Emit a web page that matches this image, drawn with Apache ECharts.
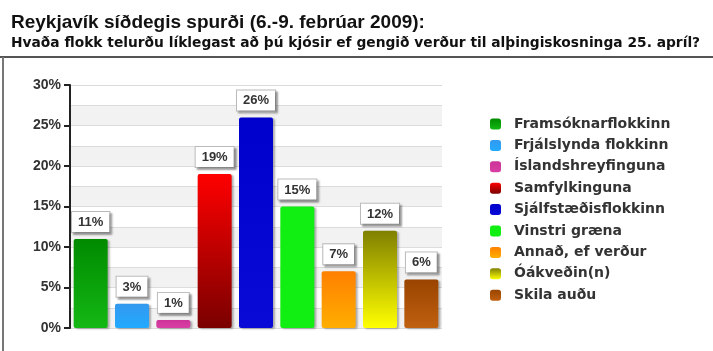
<!DOCTYPE html>
<html>
<head>
<meta charset="utf-8">
<script src="https://cdn.jsdelivr.net/npm/echarts@6/dist/echarts.min.js"></script>
<style>
  html, body { margin: 0; padding: 0; background: #fff; }
  #main { width: 713px; height: 351px; }
</style>
</head>
<body>
<div id="main"></div>
<script>
// flokkar og hlutfall (%)
var parties = ['Framsóknarflokkinn', 'Frjálslynda flokkinn', 'Íslandshreyfinguna', 'Samfylkinguna',
  'Sjálfstæðisflokkinn', 'Vinstri græna', 'Annað, ef verður', 'Óákveðin(n)', 'Skila auðu'];
var values = [11, 3, 1, 19, 26, 15, 7, 12, 6];
var yTicks = [0, 5, 10, 15, 20, 25, 30];

// litir: efri og neðri endi á hverri súlu
var topColors = ['#008a00', '#3399ee', '#cc3399', '#ff0000', '#0000cc', '#11ee11', '#ff8000', '#808000', '#994400'];
var bottomColors = ['#14b814', '#22aaff', '#d93fa3', '#7a0000', '#0a0ad6', '#11ee11', '#ffae00', '#ffff00', '#c06010'];

var chart = echarts.init(document.getElementById('main'));

var series = parties.map(function (name, i) {
  var data = values.map(function (v, j) { return j === i ? v : '-'; });
  return {
    name: name,
    type: 'bar',
    stack: 'all',
    barWidth: 34,
    data: data,
    itemStyle: {
      color: new echarts.graphic.LinearGradient(0, 0, 0, 1, [
        { offset: 0, color: topColors[i] },
        { offset: 1, color: bottomColors[i] }
      ]),
      borderRadius: 2,
      shadowColor: 'rgba(0,0,0,0.3)',
      shadowOffsetX: 2,
      shadowOffsetY: 1,
      shadowBlur: 2
    },
    label: {
      show: true,
      position: 'top',
      distance: 7,
      formatter: '{c}%',
      fontFamily: 'Liberation Sans',
      fontWeight: 'bold',
      fontSize: 13,
      color: '#333',
      backgroundColor: '#fff',
      borderColor: '#bbb',
      borderWidth: 1,
      padding: [4, 6, 3, 6],
      shadowColor: 'rgba(0,0,0,0.3)',
      shadowOffsetX: 2,
      shadowOffsetY: 2,
      shadowBlur: 2
    }
  };
});

var option = {
  animation: false,
  title: [
    {
      text: 'Reykjavík síðdegis spurði (6.-9. febrúar 2009):',
      left: 6, top: 8,
      textStyle: { fontFamily: 'Liberation Sans', fontWeight: 'bold', fontSize: 19, color: '#111' }
    },
    {
      text: 'Hvaða flokk telurðu líklegast að þú kjósir ef gengið verður til alþingiskosninga 25. apríl?',
      left: 6, top: 31,
      textStyle: { fontFamily: 'DejaVu Sans', fontWeight: 'bold', fontSize: 13.8, color: '#111' }
    }
  ],
  legend: {
    orient: 'vertical',
    left: 485, top: 112,
    itemWidth: 11, itemHeight: 11,
    itemGap: 7.4,
    icon: 'roundRect',
    data: parties,
    textStyle: {
      fontFamily: 'DejaVu Sans', fontWeight: 'bold', fontSize: 14,
      color: '#333', padding: [0, 0, 0, 8]
    }
  },
  grid: { left: 70, right: 271, top: 85, bottom: 23 },
  xAxis: {
    type: 'category',
    data: parties,
    axisLine: { show: false },
    axisTick: { show: false },
    axisLabel: { show: false }
  },
  yAxis: [
    {
      type: 'value',
      min: yTicks[0], max: yTicks[yTicks.length - 1], interval: 5,
      axisLine: { show: true, lineStyle: { color: '#222', width: 2 } },
      axisTick: { show: true, length: 6, lineStyle: { color: '#222', width: 2 } },
      axisLabel: {
        formatter: '{value}%', margin: 9,
        fontFamily: 'Liberation Sans', fontWeight: 'bold', fontSize: 14, color: '#333'
      },
      splitLine: { show: false }
    },
    {
      type: 'value',
      min: 0, max: 30, interval: 2.5,
      position: 'left',
      axisLine: { show: false },
      axisTick: { show: false },
      axisLabel: { show: false },
      splitLine: { show: true, lineStyle: { color: '#dcdcdc', width: 1 } },
      splitArea: { show: true, areaStyle: { color: ['#f2f2f2', '#ffffff'] } },
      z: 0
    }
  ],
  graphic: [
    { type: 'line', shape: { x1: 0, y1: 57, x2: 713, y2: 57 }, style: { stroke: '#555', lineWidth: 2 } },
    { type: 'line', shape: { x1: 3, y1: 57, x2: 3, y2: 351 }, style: { stroke: '#777', lineWidth: 2 } }
  ],
  series: series
};

chart.setOption(option);
</script>
</body>
</html>
